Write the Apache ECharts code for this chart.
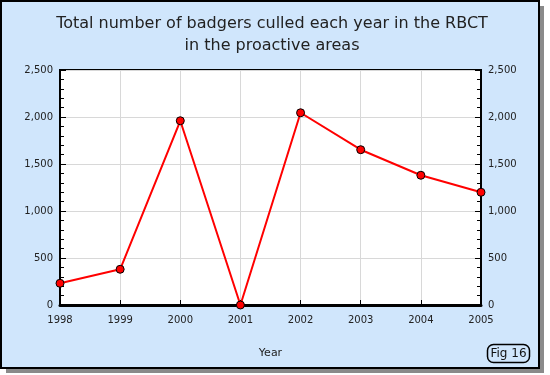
<!DOCTYPE html>
<html>
<head>
<meta charset="utf-8">
<script src="https://cdn.jsdelivr.net/npm/echarts@6/dist/echarts.min.js"></script>
<style>
html,body{margin:0;padding:0;background:#ffffff;}
#chart{width:550px;height:375px;}
</style>
</head>
<body>
<div id="chart"></div>
<script>
var years = ['1998','1999','2000','2001','2002','2003','2004','2005'];
var badgersCulled = [231, 380, 1960, 0, 2045, 1652, 1380, 1199];
var yTicks = [0, 500, 1000, 1500, 2000, 2500];
var titleText = 'Total number of badgers culled each year in the RBCT\nin the proactive areas';
var xAxisName = 'Year';
var figLabel = 'Fig 16';

var FONT = 'DejaVu Sans';
var chart = echarts.init(document.getElementById('chart'), null, {renderer: 'canvas'});

function fmt(v){ return v.toLocaleString('en-US'); }

var yAxisCommon = {
  type: 'value',
  min: yTicks[0],
  max: yTicks[yTicks.length - 1],
  interval: yTicks[1] - yTicks[0],
  axisLine: {show: true, lineStyle: {color: '#000', width: 2}},
  axisTick: {show: true, inside: true, length: 6, lineStyle: {color: '#000', width: 1}},
  minorTick: {show: true, splitNumber: 5, length: 4, lineStyle: {color: '#000', width: 1}},
  axisLabel: {color: '#222', fontFamily: FONT, fontSize: 10, margin: 7, formatter: fmt},
  splitLine: {show: false}
};

var option = {
  backgroundColor: '#ffffff',
  animation: false,
  graphic: [
    {type: 'rect', z: -10, shape: {x: 6, y: 6, width: 538, height: 367}, style: {fill: '#8a8a8a'}},
    {type: 'rect', z: -9, shape: {x: 1, y: 1, width: 538, height: 367}, style: {fill: '#d0e6fc', stroke: '#000', lineWidth: 2}},
    {type: 'rect', z: 10, shape: {x: 487.5, y: 344.5, width: 42, height: 18, r: 6}, style: {fill: '#d0e6fc', stroke: '#000', lineWidth: 1.5}},
    {type: 'text', z: 11, x: 508.5, y: 353.5, style: {text: figLabel, fill: '#111', font: '12px "DejaVu Sans"', textAlign: 'center', textVerticalAlign: 'middle'}}
  ],
  title: {
    text: titleText,
    left: 267,
    textAlign: 'center',
    top: 8,
    textStyle: {fontFamily: FONT, fontSize: 16, fontWeight: 'normal', color: '#222', lineHeight: 22}
  },
  grid: {left: 60, right: 69, top: 70, bottom: 70, show: true, backgroundColor: '#ffffff', borderColor: '#000', borderWidth: 2},
  xAxis: {
    type: 'category',
    data: years,
    boundaryGap: false,
    name: xAxisName,
    nameLocation: 'middle',
    nameGap: 43,
    nameTextStyle: {color: '#222', fontFamily: FONT, fontSize: 11},
    axisLine: {show: true, lineStyle: {color: '#000', width: 3}},
    axisTick: {show: true, inside: true, length: 5, lineStyle: {color: '#000'}},
    axisLabel: {color: '#222', fontFamily: FONT, fontSize: 10, margin: 10},
    splitLine: {show: true, lineStyle: {color: '#d8d8d8', width: 1}}
  },
  yAxis: [
    Object.assign({}, yAxisCommon, {position: 'left', splitLine: {show: true, lineStyle: {color: '#d8d8d8', width: 1}}}),
    Object.assign({}, yAxisCommon, {position: 'right'})
  ],
  series: [{
    type: 'line',
    data: badgersCulled,
    yAxisIndex: 0,
    symbol: 'circle',
    symbolSize: 8,
    lineStyle: {color: '#ff0000', width: 2},
    itemStyle: {color: '#ff0000', borderColor: '#000', borderWidth: 1}
  }]
};
chart.setOption(option);
</script>
</body>
</html>
